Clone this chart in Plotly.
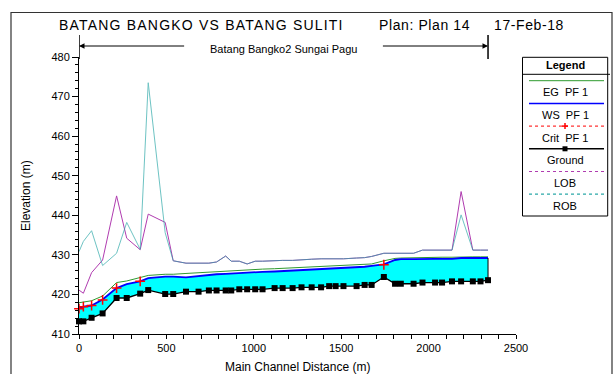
import plotly.graph_objects as go

# Main channel stations (m) along Batang Bangko2 / Sungai Pagu
station = [0, 25, 72, 135, 215, 273, 350, 396, 493, 539, 612, 684, 743, 787, 839,
           871, 917, 962, 1008, 1050, 1119, 1165, 1222, 1273, 1331, 1385, 1431, 1468,
           1513, 1588, 1634, 1674, 1744, 1808, 1841, 1914, 1965, 2037, 2077, 2134,
           2186, 2253, 2297, 2340]

ground = [413.2, 413.2, 414.1, 415.2, 419.1, 419.1, 420.2, 421.1, 420.1, 420.1, 420.7,
          420.7, 421.0, 421.0, 421.0, 421.0, 421.3, 421.3, 421.3, 421.3, 421.6, 421.6,
          421.6, 421.8, 421.8, 421.8, 422.1, 422.1, 422.1, 422.1, 422.4, 422.4, 424.4,
          422.7, 422.7, 422.7, 423.0, 423.0, 423.0, 423.3, 423.3, 423.3, 423.3, 423.6]

ws_pf1 = [416.6, 416.9, 417.2, 418.7, 421.6, 422.6, 423.3, 424.1, 424.5, 424.5, 424.3,
          424.7, 424.9, 425.1, 425.2, 425.3, 425.4, 425.5, 425.6, 425.7, 425.8, 425.9,
          426.0, 426.1, 426.3, 426.4, 426.5, 426.6, 426.7, 426.9, 427.0, 427.2, 427.6,
          428.7, 428.9, 428.9, 429.0, 429.0, 429.0, 429.0, 429.2, 429.2, 429.2, 429.2]

eg_pf1 = [417.9, 418.1, 418.4, 419.6, 423.0, 423.4, 424.4, 424.8, 425.1, 425.1, 425.3,
          425.5, 425.6, 425.8, 425.9, 426.0, 426.1, 426.2, 426.3, 426.4, 426.5, 426.6,
          426.7, 426.8, 427.0, 427.1, 427.2, 427.3, 427.4, 427.5, 427.6, 427.7, 428.5,
          429.1, 429.2, 429.3, 429.4, 429.4, 429.4, 429.4, 429.5, 429.5, 429.5, 429.5]

# Critical water surface, only where it was computed
crit_station = [0, 25, 72, 135, 215, 350, 1744]
crit_pf1 = [416.4, 416.9, 417.2, 418.6, 421.6, 423.3, 427.5]

lob = [421.1, 420.3, 425.5, 428.7, 444.9, 434.2, 431.3, 440.3, 438.2, 428.5, 427.9,
       427.9, 427.9, 428.2, 429.7, 428.4, 428.4, 427.7, 428.4, 428.4, 428.6, 428.6,
       428.6, 428.8, 428.9, 429.0, 429.0, 429.0, 429.0, 429.2, 429.3, 429.6, 430.4,
       430.4, 430.4, 430.4, 431.2, 431.2, 431.2, 431.2, 446.0, 431.2, 431.2, 431.2]

rob = [430.8, 433.4, 436.1, 427.3, 430.4, 438.2, 431.4, 473.5, 435.6, 428.5, 427.9,
       427.9, 427.9, 428.2, 429.7, 428.4, 428.4, 427.7, 428.4, 428.4, 428.6, 428.6,
       428.6, 428.8, 428.9, 429.0, 429.0, 429.0, 429.0, 429.2, 429.3, 429.6, 430.4,
       430.4, 430.4, 430.4, 431.2, 431.2, 431.2, 431.2, 440.1, 431.2, 431.2, 431.2]

x_ticks = [0, 500, 1000, 1500, 2000, 2500]
y_ticks = [410, 420, 430, 440, 450, 460, 470, 480]

legend_names = ["EG  PF 1", "WS  PF 1", "Crit  PF 1", "Ground", "LOB", "ROB"]

C_EG = "#2e9a2e"
C_WS = "#0000ff"
C_CRIT = "#ff0000"
C_GROUND = "#000000"
C_LOB = "#b03cb0"
C_ROB = "#2aa8a8"
FONT = "Liberation Sans, Arial, sans-serif"

# Figure geometry (pixels)
FW, FH = 614, 374
L, T, W, H = 79, 57, 437, 277


def px(p):
    return (p - L) / W


def py(p):
    return (T + H - p) / H


fig = go.Figure()

# Flow area between channel bed and water surface
fig.add_trace(go.Scatter(x=station, y=ground, mode="lines", line=dict(width=0),
                         hoverinfo="skip", showlegend=False))
fig.add_trace(go.Scatter(x=station, y=ws_pf1, mode="lines", line=dict(width=0),
                         fill="tonexty", fillcolor="#00ffff", hoverinfo="skip",
                         showlegend=False))

fig.add_trace(go.Scatter(x=station, y=eg_pf1, mode="lines", name="EG PF 1",
                         line=dict(color=C_EG, width=1)))
fig.add_trace(go.Scatter(x=station, y=ws_pf1, mode="lines", name="WS PF 1",
                         line=dict(color=C_WS, width=1.8)))
fig.add_trace(go.Scatter(x=crit_station, y=crit_pf1, mode="markers", name="Crit PF 1",
                         cliponaxis=False,
                         marker=dict(symbol="cross-thin", size=7,
                                     line=dict(color=C_CRIT, width=1.5))))
fig.add_trace(go.Scatter(x=station, y=ground, mode="lines+markers", name="Ground",
                         cliponaxis=False,
                         line=dict(color=C_GROUND, width=1.3),
                         marker=dict(symbol="square", size=6, color=C_GROUND)))
# Closing edge of the flow area at the downstream end
fig.add_trace(go.Scatter(x=[station[-1], station[-1]], y=[ground[-1], ws_pf1[-1]],
                         mode="lines", line=dict(color=C_GROUND, width=1),
                         hoverinfo="skip", showlegend=False))
fig.add_trace(go.Scatter(x=station, y=lob, mode="lines", name="LOB",
                         line=dict(color=C_LOB, width=1)))
fig.add_trace(go.Scatter(x=station, y=rob, mode="lines", name="ROB", opacity=0.68,
                         line=dict(color=C_ROB, width=1)))

shapes = []
annotations = []

# Outer frame
shapes.append(dict(type="rect", xref="paper", yref="paper",
                   x0=px(11), x1=px(612), y0=py(390), y1=py(12.5),
                   line=dict(color="#333333", width=1.2), layer="below"))

# Reach extent marker above the plot
ytop, ybot, yarr = py(35), py(59), py(46)
for s in (station[0], station[-1]):
    shapes.append(dict(type="line", xref="x", yref="paper", x0=s, x1=s,
                       y0=ybot, y1=ytop, line=dict(color="#000000", width=1.5)))
mid = (station[0] + station[-1]) / 2
half_gap = 560
annotations.append(dict(x=station[0], y=yarr, xref="x", yref="paper",
                        ax=mid - half_gap, ay=0, axref="x", ayref="pixel",
                        text="", showarrow=True, arrowhead=2, arrowsize=1.1,
                        arrowwidth=1, arrowcolor="#000000"))
annotations.append(dict(x=station[-1], y=yarr, xref="x", yref="paper",
                        ax=mid + half_gap, ay=0, axref="x", ayref="pixel",
                        text="", showarrow=True, arrowhead=2, arrowsize=1.1,
                        arrowwidth=1, arrowcolor="#000000"))
annotations.append(dict(x=mid, y=py(49), xref="x", yref="paper",
                        text="Batang Bangko2 Sungai Pagu", showarrow=False,
                        font=dict(family=FONT, size=11, color="#000000"),
                        xanchor="center", yanchor="middle"))

# Header line
annotations.append(dict(x=px(57), y=py(25.5), xref="paper", yref="paper",
                        text='<span style="letter-spacing:1.2px">BATANG BANGKO VS BATANG SULITI</span>',
                        showarrow=False, xanchor="left", yanchor="middle",
                        font=dict(family=FONT, size=14, color="#000000")))
annotations.append(dict(x=px(377), y=py(25.5), xref="paper", yref="paper",
                        text='<span style="letter-spacing:0.6px">Plan: Plan 14</span>',
                        showarrow=False, xanchor="left", yanchor="middle",
                        font=dict(family=FONT, size=14, color="#000000")))
annotations.append(dict(x=px(492), y=py(25.5), xref="paper", yref="paper",
                        text='<span style="letter-spacing:0.6px">17-Feb-18</span>',
                        showarrow=False, xanchor="left", yanchor="middle",
                        font=dict(family=FONT, size=14, color="#000000")))

# Axis titles
annotations.append(dict(x=px(26), y=py(196), xref="paper", yref="paper",
                        text="Elevation (m)", textangle=-90, showarrow=False,
                        xanchor="center", yanchor="middle",
                        font=dict(family=FONT, size=12, color="#000000")))
annotations.append(dict(x=px(297), y=py(367), xref="paper", yref="paper",
                        text="Main Channel Distance (m)", showarrow=False,
                        xanchor="center", yanchor="middle",
                        font=dict(family=FONT, size=12, color="#000000")))

# Legend box
bx0, bx1, by0, by1 = 522.5, 607.7, 57.3, 216
shapes.append(dict(type="rect", xref="paper", yref="paper",
                   x0=px(bx0), x1=px(bx1), y0=py(by1), y1=py(by0),
                   line=dict(color="#000000", width=1), fillcolor="#ffffff"))
shapes.append(dict(type="line", xref="paper", yref="paper",
                   x0=px(bx0), x1=px(610), y0=py(74.3), y1=py(74.3),
                   line=dict(color="#000000", width=1)))
annotations.append(dict(x=px(565), y=py(64.8), xref="paper", yref="paper",
                        text="<b>Legend</b>", showarrow=False,
                        xanchor="center", yanchor="middle",
                        font=dict(family=FONT, size=11, color="#000000")))
row_styles = [
    (C_EG, "solid", 1, None),
    (C_WS, "solid", 1.5, None),
    (C_CRIT, "dot", 1, "cross"),
    (C_GROUND, "solid", 1.5, "square"),
    (C_LOB, "dot", 1.2, None),
    (C_ROB, "dot", 1.2, None),
]
cx = 565
for i, (name, (col, dash, lw, mk)) in enumerate(zip(legend_names, row_styles)):
    ly = 80.7 + 22.7 * i
    ty = 92.3 + 22.7 * i
    shapes.append(dict(type="line", xref="paper", yref="paper",
                       x0=px(529), x1=px(604), y0=py(ly), y1=py(ly),
                       line=dict(color=col, width=lw, dash=dash)))
    if mk == "square":
        shapes.append(dict(type="rect", xref="paper", yref="paper",
                           x0=px(cx - 2.5), x1=px(cx + 2.5), y0=py(ly + 2.5),
                           y1=py(ly - 2.5), line=dict(width=0), fillcolor=col))
    elif mk == "cross":
        shapes.append(dict(type="line", xref="paper", yref="paper",
                           x0=px(cx - 3), x1=px(cx + 3), y0=py(ly), y1=py(ly),
                           line=dict(color=col, width=1.5)))
        shapes.append(dict(type="line", xref="paper", yref="paper",
                           x0=px(cx), x1=px(cx), y0=py(ly + 3), y1=py(ly - 3),
                           line=dict(color=col, width=1.5)))
    annotations.append(dict(x=px(cx), y=py(ty), xref="paper", yref="paper",
                            text=name, showarrow=False, xanchor="center",
                            yanchor="middle",
                            font=dict(family=FONT, size=11, color="#000000")))

fig.update_layout(
    width=FW, height=FH,
    margin=dict(l=L, r=FW - L - W, t=T, b=FH - T - H, pad=0),
    paper_bgcolor="#ffffff", plot_bgcolor="#ffffff",
    showlegend=False,
    font=dict(family=FONT, size=11, color="#000000"),
    shapes=shapes, annotations=annotations,
    xaxis=dict(range=[0, 2500], tickvals=x_ticks, ticktext=[str(v) for v in x_ticks],
               showgrid=False, zeroline=False, showline=True, linecolor="#000000",
               linewidth=1, ticks="outside", ticklen=4, tickcolor="#000000",
               minor=dict(dtick=100, ticks="outside", ticklen=4, tickcolor="#000000",
                          showgrid=False),
               tickfont=dict(family=FONT, size=11, color="#000000")),
    yaxis=dict(range=[410, 480], tickvals=y_ticks, ticktext=[str(v) for v in y_ticks],
               showgrid=False, zeroline=False, showline=True, linecolor="#000000",
               linewidth=1, ticks="outside", ticklen=6, tickcolor="#000000",
               minor=dict(dtick=2, ticks="outside", ticklen=3, tickcolor="#000000",
                          showgrid=False),
               tickfont=dict(family=FONT, size=11, color="#000000")),
)

fig.write_html("out.html")
